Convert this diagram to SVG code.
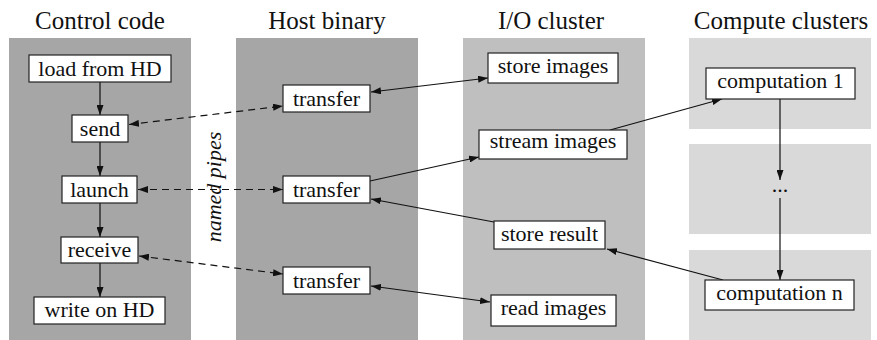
<svg xmlns="http://www.w3.org/2000/svg" width="877" height="340" viewBox="0 0 877 340">
<style>
.title{font-size:25px;fill:#111;text-anchor:middle}
.lbl{font-size:22px;fill:#111;text-anchor:middle}
.box{fill:#fff;stroke:#222;stroke-width:1.2}
.p1{fill:#a6a6a6}
.p2{fill:#bfbfbf}
.p3{fill:#d9d9d9}
.c{fill:none;stroke:#111;stroke-width:1.2}
.d{stroke-dasharray:7,5}
</style>
<defs>
<marker id="ah" viewBox="0 0 10 7" refX="10" refY="3.5" markerWidth="10" markerHeight="7" markerUnits="userSpaceOnUse" orient="auto-start-reverse">
<path d="M0,0 L10,3.5 L0,7 z" fill="#111"/>
</marker>
</defs>
<g font-family="Liberation Serif, DejaVu Serif, serif">
<g id="panels">
<rect class="p1" x="9" y="38" width="182" height="302"/>
<rect class="p1" x="236" y="38" width="182" height="302"/>
<rect class="p2" x="463" y="38" width="182" height="302"/>
<rect class="p3" x="689" y="38" width="182" height="91"/>
<rect class="p3" x="689" y="144" width="182" height="90"/>
<rect class="p3" x="689" y="250" width="182" height="90"/>
</g>
<g id="titles">
<text class="title" x="100" y="29">Control code</text>
<text class="title" x="327" y="29">Host binary</text>
<text class="title" x="551" y="29">I/O cluster</text>
<text class="title" x="781" y="29">Compute clusters</text>
</g>
<text id="pipes" class="lbl" font-style="italic" transform="translate(221,187) rotate(-90)">named pipes</text>
<g id="connectors">
<line class="c" x1="100" y1="82" x2="100" y2="115" marker-end="url(#ah)"/>
<line class="c" x1="100" y1="142" x2="100" y2="176" marker-end="url(#ah)"/>
<line class="c" x1="100" y1="203" x2="100" y2="237" marker-end="url(#ah)"/>
<line class="c" x1="100" y1="263" x2="100" y2="297" marker-end="url(#ah)"/>
<line class="c d" x1="129" y1="124.5" x2="283" y2="106" marker-start="url(#ah)" marker-end="url(#ah)"/>
<line class="c d" x1="138" y1="189.5" x2="283" y2="189.5" marker-start="url(#ah)" marker-end="url(#ah)"/>
<line class="c d" x1="139" y1="256" x2="283" y2="274" marker-start="url(#ah)" marker-end="url(#ah)"/>
<line class="c" x1="371" y1="92" x2="488" y2="78" marker-start="url(#ah)" marker-end="url(#ah)"/>
<line class="c" x1="370" y1="181" x2="479" y2="157" marker-end="url(#ah)"/>
<line class="c" x1="610" y1="130" x2="722" y2="99" marker-end="url(#ah)"/>
<line class="c" x1="494" y1="222" x2="371" y2="199" marker-end="url(#ah)"/>
<line class="c" x1="723" y1="280" x2="607" y2="249" marker-end="url(#ah)"/>
<line class="c" x1="371" y1="286" x2="490" y2="302" marker-start="url(#ah)" marker-end="url(#ah)"/>
<line class="c" x1="780" y1="99" x2="780" y2="180" marker-end="url(#ah)"/>
<line class="c" x1="780" y1="198" x2="780" y2="280" marker-end="url(#ah)"/>
</g>
<g id="load"><rect class="box" x="29" y="55" width="142" height="27"/><text class="lbl" x="100" y="76">load from HD</text></g>
<g id="send"><rect class="box" x="72" y="115" width="56" height="27"/><text class="lbl" x="100" y="136">send</text></g>
<g id="launch"><rect class="box" x="62" y="176" width="75" height="27"/><text class="lbl" x="99.5" y="197">launch</text></g>
<g id="receive"><rect class="box" x="61" y="237" width="77" height="26"/><text class="lbl" x="99.5" y="257">receive</text></g>
<g id="write"><rect class="box" x="34" y="297" width="131" height="27"/><text class="lbl" x="99.5" y="317">write on HD</text></g>
<g id="transfer1"><rect class="box" x="283" y="85" width="87" height="27"/><text class="lbl" x="326.5" y="105.5">transfer</text></g>
<g id="transfer2"><rect class="box" x="283" y="176" width="87" height="27"/><text class="lbl" x="326.5" y="196.5">transfer</text></g>
<g id="transfer3"><rect class="box" x="283" y="267" width="87" height="27"/><text class="lbl" x="326.5" y="287.5">transfer</text></g>
<g id="storeimages"><rect class="box" x="488" y="53" width="130" height="30"/><text class="lbl" x="553" y="73">store images</text></g>
<g id="streamimages"><rect class="box" x="479" y="130" width="148" height="29"/><text class="lbl" x="553" y="148">stream images</text></g>
<g id="storeresult"><rect class="box" x="494" y="221" width="111" height="28"/><text class="lbl" x="549.5" y="241">store result</text></g>
<g id="readimages"><rect class="box" x="491" y="295" width="125" height="31"/><text class="lbl" x="553.5" y="315">read images</text></g>
<g id="comp1"><rect class="box" x="706" y="68" width="149" height="31"/><text class="lbl" x="780.5" y="88">computation 1</text></g>
<g id="dots"><text class="lbl" x="780" y="192">...</text></g>
<g id="compn"><rect class="box" x="705" y="280" width="149" height="30"/><text class="lbl" x="779.5" y="300">computation n</text></g>
</g>
</svg>
